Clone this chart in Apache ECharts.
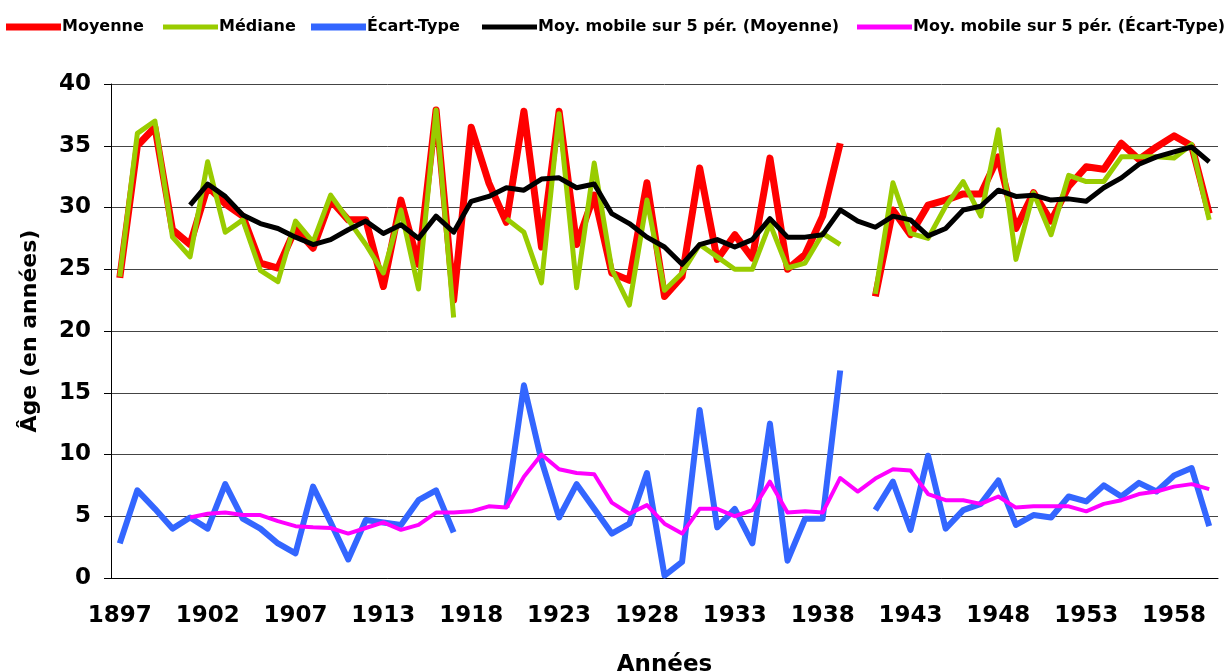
<!DOCTYPE html>
<html>
<head>
<meta charset="utf-8">
<script src="https://cdn.jsdelivr.net/npm/echarts@6/dist/echarts.min.js"></script>
<style>
    html, body { margin: 0; padding: 0; background: #fff; }
    #chart { width: 1229px; height: 672px; }
</style>
</head>
<body>
<div id="chart"></div>
<script>
var years = ['1897','1898','1899','1900','1901','1902','1903','1904','1905','1906',
    '1907','1908','1909','1911','1912','1913','1914','1915','1916','1917',
    '1918','1919','1920','1921','1922','1923','1924','1925','1926','1927',
    '1928','1929','1930','1931','1932','1933','1934','1935','1936','1937',
    '1938','1939','1940','1941','1942','1943','1944','1945','1946','1947',
    '1948','1949','1950','1951','1952','1953','1954','1955','1956','1957',
    '1958','1959','1960'];

var moyenne = [24.3, 35.0, 36.5, 28.2, 27.0, 31.7, 30.3, 29.3, 25.5, 25.1,
    28.3, 26.7, 30.6, 29.0, 29.0, 23.6, 30.6, 25.4, 37.9, 22.5,
    36.5, 32.0, 28.8, 37.8, 26.8, 37.8, 27.0, 31.0, 24.7, 24.1,
    32.0, 22.8, 24.4, 33.2, 25.8, 27.8, 25.9, 34.0, 25.0, 26.2,
    29.3, 35.2, null, 22.8, 29.8, 27.8, 30.2, 30.6, 31.1, 31.1,
    34.1, 28.3, 31.2, 28.9, 31.7, 33.3, 33.1, 35.2, 33.9, 34.9,
    35.8, 35.0, 29.5];

var mediane = [24.4, 36.0, 37.0, 27.6, 26.0, 33.7, 28.0, 29.0, 24.9, 24.0,
    28.9, 27.2, 31.0, 29.0, 27.0, 24.7, 29.8, 23.4, 37.9, 21.1,
    null, null, 29.1, 28.0, 23.9, 37.6, 23.5, 33.6, 25.0, 22.1,
    30.6, 23.3, 24.7, 27.0, 26.0, 25.0, 25.0, 28.7, 25.1, 25.5,
    27.9, 27.0, null, 23.0, 32.0, 27.9, 27.5, 30.1, 32.1, 29.3,
    36.3, 25.8, 31.2, 27.8, 32.6, 32.1, 32.1, 34.1, 34.1, 34.1,
    34.0, 35.1, 29.0];

var ecartType = [2.8, 7.1, 5.6, 4.0, 4.9, 4.0, 7.6, 4.8, 4.0, 2.8,
    2.0, 7.4, 4.5, 1.5, 4.7, 4.5, 4.3, 6.3, 7.1, 3.7,
    null, null, 5.7, 15.6, 9.5, 4.9, 7.6, 5.6, 3.6, 4.4,
    8.5, 0.2, 1.3, 13.6, 4.1, 5.6, 2.8, 12.5, 1.4, 4.8,
    4.8, 16.8, null, 5.5, 7.8, 3.9, 9.9, 4.0, 5.5, 6.0,
    7.9, 4.3, 5.1, 4.9, 6.6, 6.2, 7.5, 6.6, 7.7, 7.0,
    8.3, 8.9, 4.2];

var mmMoyenne = [null, null, null, null, 30.2, 31.9, 30.9, 29.4, 28.7, 28.3,
    27.6, 27.0, 27.4, 28.2, 28.9, 27.9, 28.6, 27.5, 29.3, 28.0,
    30.5, 30.9, 31.6, 31.4, 32.3, 32.4, 31.6, 31.9, 29.5, 28.7,
    27.6, 26.8, 25.4, 27.0, 27.4, 26.8, 27.4, 29.1, 27.6, 27.6,
    27.8, 29.8, 28.9, 28.4, 29.3, 29.0, 27.7, 28.3, 29.8, 30.1,
    31.4, 30.9, 31.0, 30.6, 30.7, 30.5, 31.6, 32.4, 33.5, 34.1,
    34.5, 34.9, 33.7];

var mmEcart = [null, null, null, null, 4.9, 5.2, 5.3, 5.1, 5.1, 4.6,
    4.2, 4.1, 4.05, 3.6, 4.05, 4.5, 3.9, 4.3, 5.3, 5.3,
    5.4, 5.8, 5.7, 8.2, 10.0, 8.8, 8.5, 8.4, 6.1, 5.2,
    5.9, 4.4, 3.6, 5.6, 5.6, 5.0, 5.5, 7.8, 5.3, 5.4,
    5.3, 8.1, 7.0, 8.05, 8.8, 8.7, 6.8, 6.3, 6.3, 6.0,
    6.6, 5.7, 5.8, 5.8, 5.8, 5.4, 6.0, 6.3, 6.8, 7.0,
    7.4, 7.6, 7.2];

var seriesNames = ['Moyenne', 'Médiane', 'Écart-Type',
    'Moy. mobile sur 5 pér. (Moyenne)', 'Moy. mobile sur 5 pér. (Écart-Type)'];

var font = 'DejaVu Sans';

// one legend per item so each sits where the original puts it
function legendAt(name, left, h) {
    return {
        data: [name],
        left: left,
        top: 19,
        padding: 0,
        icon: 'rect',
        itemWidth: 55,
        itemHeight: h,
        itemGap: 0,
        selectedMode: false,
        itemStyle: { borderWidth: 0 },
        textStyle: {
            fontFamily: font, fontWeight: 'bold', fontSize: 16, color: '#000',
            padding: [0, 0, 0, -4]
        }
    };
}

function lineOf(i, data, w) {
    return {
        name: seriesNames[i], type: 'line', data: data,
        showSymbol: false,
        lineStyle: { width: w, join: 'round', cap: 'butt' }
    };
}

var chart = echarts.init(document.getElementById('chart'));
var option = {
    animation: false,
    color: ['#ff0000', '#99cc00', '#3366ff', '#000000', '#ff00ff'],
    legend: [
        legendAt(seriesNames[0], 6, 7),
        legendAt(seriesNames[1], 163, 5),
        legendAt(seriesNames[2], 311, 7),
        legendAt(seriesNames[3], 482, 5),
        legendAt(seriesNames[4], 857, 5)
    ],
    grid: {
        left: 111,
        right: 11,
        top: 84,
        bottom: 94,
        outerBoundsMode: 'none'
    },
    xAxis: {
        type: 'category',
        boundaryGap: true,
        data: years,
        name: 'Années',
        nameLocation: 'middle',
        nameGap: 76,
        nameTextStyle: { fontFamily: font, fontWeight: 'bold', fontSize: 23, color: '#000' },
        axisLine: { lineStyle: { color: '#000', width: 1 } },
        axisTick: { interval: 4, length: 7, lineStyle: { color: '#000' } },
        axisLabel: {
            interval: 4, margin: 27,
            fontFamily: font, fontWeight: 'bold', fontSize: 23, color: '#000'
        },
        splitLine: { show: false }
    },
    yAxis: {
        type: 'value',
        min: 0,
        max: 40,
        interval: 5,
        name: 'Âge (en années)',
        nameLocation: 'middle',
        nameGap: 70,
        nameTextStyle: { fontFamily: font, fontWeight: 'bold', fontSize: 22, color: '#000' },
        axisLine: { show: true, lineStyle: { color: '#000', width: 1 } },
        axisTick: { show: true, length: 7, lineStyle: { color: '#000' } },
        axisLabel: {
            margin: 20,
            fontFamily: font, fontWeight: 'bold', fontSize: 23, color: '#000'
        },
        splitLine: { lineStyle: { color: '#444', width: 1 } }
    },
    series: [
        lineOf(0, moyenne, 7),
        lineOf(1, mediane, 5),
        lineOf(2, ecartType, 6),
        lineOf(3, mmMoyenne, 5),
        lineOf(4, mmEcart, 4)
    ]
};
chart.setOption(option);
window.addEventListener('resize', chart.resize);
</script>
</body>
</html>
